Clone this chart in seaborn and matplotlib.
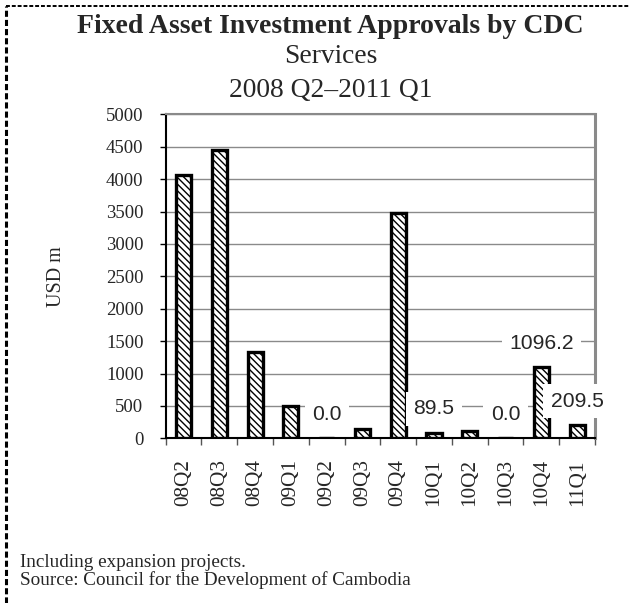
import matplotlib
matplotlib.use("Agg")
import matplotlib.pyplot as plt
from matplotlib.lines import Line2D
import seaborn as sns
import pandas as pd
import numpy as np

categories = ["08Q2", "08Q3", "08Q4", "09Q1", "09Q2", "09Q3",
              "09Q4", "10Q1", "10Q2", "10Q3", "10Q4", "11Q1"]
values = [4060, 4455, 1335, 495, 0.0, 145, 3480, 89.5, 120, 0.0, 1096.2, 209.5]
labelled = ["09Q2", "10Q1", "10Q3", "10Q4", "11Q1"]
y_ticks = [0, 500, 1000, 1500, 2000, 2500, 3000, 3500, 4000, 4500, 5000]

title_main = "Fixed Asset Investment Approvals by CDC"
title_sub1 = "Services"
title_sub2 = "2008 Q2\u20132011 Q1"
y_label = "USD m"
notes = ["Including expansion projects.",
         "Source: Council for the Development of Cambodia"]

sns.set_theme(style="white")
plt.rcParams["font.family"] = ["Liberation Serif", "DejaVu Serif"]
plt.rcParams["hatch.linewidth"] = 1.0

df = pd.DataFrame({"quarter": categories, "value": values})

fig = plt.figure(figsize=(6.30, 6.03), dpi=100)
ax = fig.add_axes([165.7 / 630, 1 - 438.3 / 603, (595 - 165.7) / 630, (438.3 - 114.3) / 603])

sns.barplot(data=df, x="quarter", y="value", ax=ax, color="white",
            width=0.42, edgecolor="black", linewidth=2.4, zorder=3, saturation=1)
for p in ax.patches:
    p.set_hatch("\\\\\\\\\\")
    p.set_edgecolor("black")
    p.set_facecolor("white")

ax.set_ylim(0, 5000)
ax.set_xlim(-0.5, len(categories) - 0.5)
ax.set_yticks(y_ticks)
ax.set_yticklabels([str(t) for t in y_ticks], fontsize=13.5)
ax.yaxis.grid(True, color="#8a8a8a", linewidth=1.0, zorder=0)
ax.set_axisbelow(True)

ax.set_xticks(range(len(categories)))
ax.set_xticklabels(categories, rotation=90, fontsize=15.3)
ax.set_xticks(np.arange(-0.5, len(categories), 1.0), minor=True)
ax.tick_params(axis="x", which="major", length=0, pad=15)
ax.tick_params(axis="x", which="minor", length=5, width=1, color="#555555", direction="out", bottom=True)
ax.tick_params(axis="y", which="major", length=4, width=1, color="black", direction="out", left=True, pad=12)

ax.set_xlabel("")
ax.set_ylabel(y_label, fontsize=14.5)
ax.yaxis.set_label_coords((66 - 165.7) / (595 - 165.7), 0.5)

for side in ["left", "bottom"]:
    ax.spines[side].set_color("black")
    ax.spines[side].set_linewidth(1.5)
ax.spines["top"].set_color("#8a8a8a")
ax.spines["top"].set_linewidth(1.5)
ax.spines["right"].set_color("#8a8a8a")
ax.spines["right"].set_linewidth(2.2)
for s in ax.spines.values():
    s.set_zorder(2.5)

for cat, val in zip(categories, values):
    if cat in labelled:
        i = categories.index(cat)
        ax.annotate(f"{val:.1f}", xy=(i, val), xytext=(0, 17), textcoords="offset points",
                    ha="center", va="center", fontsize=15.2,
                    family=["Liberation Sans", "DejaVu Sans"], zorder=5, clip_on=False,
                    bbox=dict(boxstyle="square,pad=0.35", fc="white", ec="none"))

fig.text(0.525, 1 - 33 / 603, title_main, ha="center", va="baseline", fontsize=20, fontweight="bold")
fig.text(0.525, 1 - 63 / 603, title_sub1, ha="center", va="baseline", fontsize=19.8)
fig.text(0.525, 1 - 97 / 603, title_sub2, ha="center", va="baseline", fontsize=19.8)

fig.text(20 / 630, 1 - 567 / 603, notes[0], ha="left", va="baseline", fontsize=13.8)
fig.text(20 / 630, 1 - 585 / 603, notes[1], ha="left", va="baseline", fontsize=13.8)

fig.add_artist(Line2D([5.5 / 630, 5.5 / 630], [0, 1 - 5.5 / 603], transform=fig.transFigure,
                      color="black", linewidth=2.2, linestyle=(0, (2, 1))))
fig.add_artist(Line2D([5.5 / 630, 1], [1 - 5.5 / 603, 1 - 5.5 / 603], transform=fig.transFigure,
                      color="black", linewidth=1.4, linestyle=(0, (2, 1))))

fig.savefig("out.png", dpi=100)
